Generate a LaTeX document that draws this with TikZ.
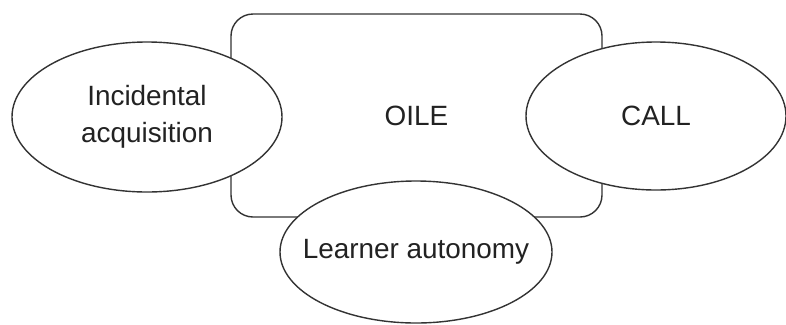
\documentclass[tikz,border=0pt]{standalone}
\usepackage{fontspec}
\setmainfont{Liberation Sans}
\usetikzlibrary{shapes.geometric}
\definecolor{linegray}{HTML}{333333}
\definecolor{textgray}{HTML}{222222}
% zero-width text so the ellipse keeps its given size
\newcommand{\zerowide}[1]{\makebox[0pt]{#1}}
\begin{document}
\begin{tikzpicture}[x=1bp,y=-1bp,
  every node/.style={font=\fontsize{28}{37}\selectfont, text=textgray},
  hub/.style={draw=linegray, line width=1.4bp, rounded corners=22bp,
    rectangle, minimum width=371bp, minimum height=203bp, inner sep=0pt},
  topic/.style={draw=linegray, line width=1.4bp, fill=white, ellipse,
    inner sep=0pt}]
  \useasboundingbox (0,0) rectangle (786,324);
  % central rounded box
  \node[hub] (oile) at (416.5,115.5) {OILE};
  % surrounding topics, drawn over the box edges
  \node[topic, minimum width=270bp, minimum height=150bp] (inc) at (147,117)
    {\zerowide{\begin{tabular}{@{}c@{}}Incidental\\acquisition\end{tabular}}};
  \node[topic, minimum width=260bp, minimum height=148bp] (call) at (656,116)
    {\zerowide{CALL}};
  \node[topic, minimum width=272bp, minimum height=142bp] (auto) at (416,252)
    {\zerowide{\raisebox{-6bp}{Learner autonomy}}};
\end{tikzpicture}
\end{document}
